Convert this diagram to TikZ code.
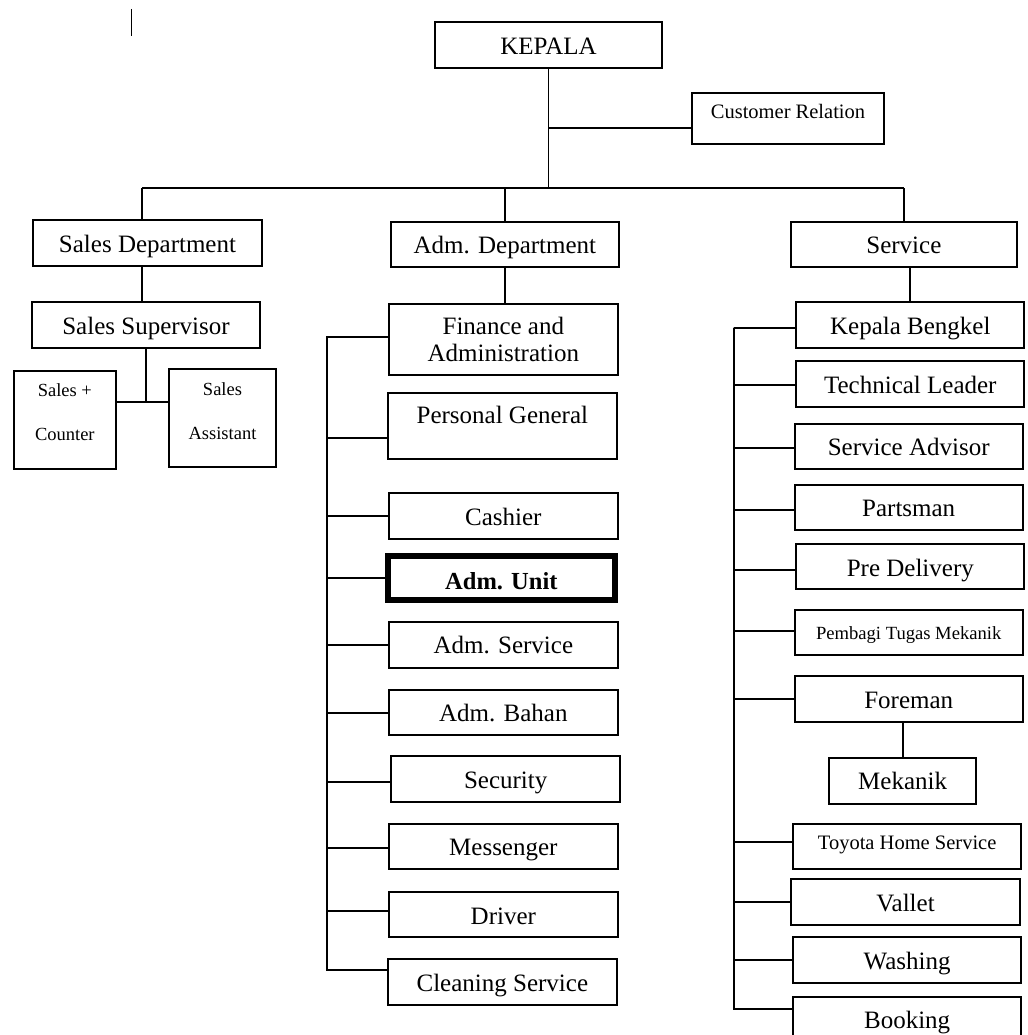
\documentclass[tikz,border=0pt]{standalone}
\usepackage{fontspec}
\setmainfont{Liberation Serif}
\begin{document}
\begin{tikzpicture}[x=1pt,y=-1pt,
  box/.style={draw,line width=1.9pt,inner sep=0pt,align=center,
    font=\fontsize{25}{26.7}\selectfont},
  one/.style={text height=20pt,text depth=1.5pt},
  small/.style={font=\fontsize{18.6}{22}\selectfont,text height=14.8pt,text depth=1.1pt},
  mid/.style={font=\fontsize{20.5}{24}\selectfont,text height=16.4pt,text depth=1.2pt},
  conn/.style={line width=1.9pt}]
\useasboundingbox (0,0) rectangle (1027,1035);
\clip (0,0) rectangle (1027,1035);
% stray mark
\coordinate (m1) at (131,9);
\coordinate (m2) at (131,36);
\draw[line width=1pt] (m1) -- (m2);
% top
\node[box,one,minimum width=227,minimum height=46] (kepala) at (548.5,45) {KEPALA};
\node[box,mid,text depth=15.9pt,minimum width=192,minimum height=51] (cr) at (788,118.5) {Customer Relation};
\coordinate (busl) at (142,188);
\coordinate (busr) at (904,188);
% departments
\node[box,one,minimum width=229,minimum height=46] (sd) at (147.5,243) {Sales Department};
\node[box,one,minimum width=227.7,minimum height=45] (adm) at (504.85,244.5) {Adm. Department};
\node[box,one,minimum width=226.3,minimum height=45] (svc) at (903.85,244.5) {Service};
% sales
\node[box,one,minimum width=228,minimum height=46] (ss) at (146,325) {Sales Supervisor};
\node[box,font=\fontsize{18.5}{22}\selectfont,minimum width=101.7,minimum height=98] (sc) at (64.85,420) {Sales +\\[22pt]Counter\rule[-16pt]{0pt}{0pt}};
\node[box,font=\fontsize{18.5}{22}\selectfont,minimum width=107,minimum height=98] (sa) at (222.5,418) {Sales\\[22pt]Assistant\rule[-14pt]{0pt}{0pt}};
% adm column
\node[box,minimum width=228.7,minimum height=71.3] (fin) at (503.35,339.65) {Finance and\\Administration};
\node[box,one,text depth=24.9pt,minimum width=228.7,minimum height=66] (pg) at (502.35,425.7) {Personal General};
\node[box,one,minimum width=228.7,minimum height=45.4] (cash) at (503.35,516) {Cashier};
\node[box,line width=6pt,font=\fontsize{24.5}{26}\selectfont\bfseries,text height=25pt,text depth=1.4pt,minimum width=226.7,minimum height=44.6] (unit) at (501.35,578) {Adm. Unit};
\node[box,one,minimum width=228.7,minimum height=46] (asvc) at (503.35,644.7) {Adm. Service};
\node[box,one,minimum width=228.7,minimum height=45.3] (bahan) at (503.35,712.65) {Adm. Bahan};
\node[box,one,minimum width=228.7,minimum height=45.7] (sec) at (505.65,778.85) {Security};
\node[box,one,minimum width=228.7,minimum height=45.3] (msg) at (503.35,846.65) {Messenger};
\node[box,one,minimum width=228.7,minimum height=45] (drv) at (503.35,914.8) {Driver};
\node[box,one,minimum width=228.7,minimum height=46] (cln) at (502.35,982.3) {Cleaning Service};
\coordinate (abus) at (327.3,336.7);
\coordinate (abusb) at (327.3,970);
% service column
\node[box,one,minimum width=228,minimum height=45.7] (kb) at (910.3,324.85) {Kepala Bengkel};
\node[box,one,minimum width=228,minimum height=45.7] (tl) at (910.3,383.85) {Technical Leader};
\node[box,one,minimum width=228,minimum height=45.3] (sadv) at (908.7,446.65) {Service Advisor};
\node[box,one,minimum width=228,minimum height=45.3] (parts) at (908.7,507.35) {Partsman};
\node[box,one,minimum width=228,minimum height=45] (pdi) at (910.3,566.8) {Pre Delivery};
\node[box,small,minimum width=228,minimum height=45.3] (ptm) at (908.7,632.65) {Pembagi Tugas Mekanik};
\node[box,one,minimum width=228,minimum height=45.7] (fm) at (908.7,698.85) {Foreman};
\node[box,one,minimum width=146.7,minimum height=46] (mek) at (902.65,780.7) {Mekanik};
\node[box,mid,text depth=10.9pt,minimum width=228.3,minimum height=45.3] (ths) at (907.15,846.65) {Toyota Home Service};
\node[box,one,minimum width=228.4,minimum height=45.7] (val) at (905.5,902.15) {Vallet};
\node[box,one,minimum width=228.3,minimum height=45.4] (wash) at (907.15,960) {Washing};
\node[box,one,minimum width=228.3,minimum height=45.3] (book) at (907.15,1019.35) {Booking};
\coordinate (sbus) at (733.7,328);
\coordinate (sbusb) at (733.7,1008.7);
% top connectors
\draw[conn] (kepala.south) -- (kepala.south |- busl);
\draw[conn] ([yshift=-9.5pt]cr.west) -| (kepala.south);
\draw[conn] (busl) -- (busr);
\draw[conn] (busl) -- (busl |- sd.north);
\draw[conn] (adm.north) -- (adm.north |- busl);
\draw[conn] (svc.north) -- (svc.north |- busr);
% sales connectors
\draw[conn] (sd.south -| busl) -- (ss.north -| busl);
\coordinate (sjoin) at (144,402);
\draw[conn] (ss.south) -- (ss.south |- sjoin);
\draw[conn] ([yshift=18pt]sc.east) -- ([yshift=16pt]sa.west);
% adm connectors
\draw[conn] (adm.south) -- (adm.south |- fin.north);
\draw[conn] (abus) -- (abusb);
\draw[conn] ([yshift=3pt]fin.west) -| (abus);
\draw[conn] ([yshift=-12.3pt]pg.west) -| (abus);
\draw[conn] (cash.west) -| (abus);
\draw[conn] (unit.west) -| (abus);
\draw[conn] (asvc.west) -| (abus);
\draw[conn] (bahan.west) -| (abus);
\draw[conn] ([yshift=-3.5pt]sec.west) -| (abus);
\draw[conn] ([yshift=-1.6pt]msg.west) -| (abus);
\draw[conn] ([yshift=4pt]drv.west) -| (abus);
\draw[conn] ([yshift=12.3pt]cln.west) -| (abus);
% service connectors
\draw[conn] (kb.north) -- (kb.north |- svc.south);
\draw[conn] (sbus) -- (sbusb);
\draw[conn] ([yshift=-3.2pt]kb.west) -| (sbus);
\draw[conn] ([yshift=-1.5pt]tl.west) -| (sbus);
\draw[conn] ([yshift=-1.6pt]sadv.west) -| (sbus);
\draw[conn] ([yshift=-3pt]parts.west) -| (sbus);
\draw[conn] ([yshift=-3.2pt]pdi.west) -| (sbus);
\draw[conn] ([yshift=2pt]ptm.west) -| (sbus);
\draw[conn] (fm.west) -| (sbus);
\draw[conn] (mek.north) -- (mek.north |- fm.south);
\draw[conn] ([yshift=5pt]ths.west) -| (sbus);
\draw[conn] (val.west) -| (sbus);
\draw[conn] (wash.west) -| (sbus);
\draw[conn] ([yshift=10.6pt]book.west) -| (sbus);
\end{tikzpicture}
\end{document}
